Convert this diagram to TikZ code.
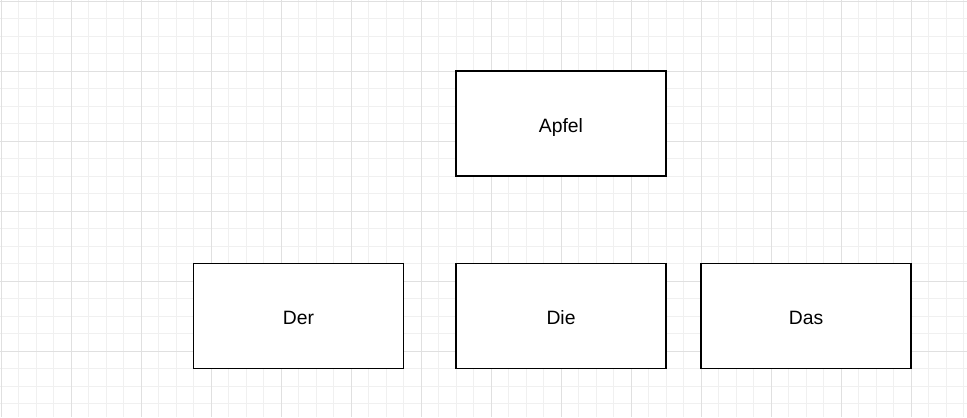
\documentclass[tikz,border=0pt]{standalone}
\usepackage{fontspec}
\setmainfont{Liberation Sans}
\definecolor{gridminor}{RGB}{240,240,240}
\definecolor{gridmajor}{RGB}{224,224,224}
\tikzset{
  wordbox/.style={draw=black, line width=0.85pt, fill=white, minimum width=4.2cm, minimum height=2.1cm,
    inner sep=0pt, text height=0.34cm, text depth=0pt, font=\fontsize{11}{13}\selectfont}
}
\begin{document}
\begin{tikzpicture}[x=0.02cm,y=-0.02cm]
	    \useasboundingbox (0,0) rectangle (967,417);
	    \fill[white] (0,0) rectangle (967,417);
	    % grid
	    \foreach \i in {0,...,55} {
	      \draw[line width=0.55pt,color=gridminor] (1+17.5*\i,0) -- (1+17.5*\i,417);
	    }
	    \foreach \j in {0,...,23} {
	      \draw[line width=0.55pt,color=gridminor] (0,1+17.5*\j) -- (967,1+17.5*\j);
	    }
	    \foreach \i in {0,...,13} {
	      \draw[line width=0.55pt,color=gridmajor] (1+70*\i,0) -- (1+70*\i,417);
	    }
	    \foreach \j in {0,...,5} {
	      \draw[line width=0.55pt,color=gridmajor] (0,1+70*\j) -- (967,1+70*\j);
	    }

	    \node[wordbox] (apfel) at (561,123.5) {Apfel};
	    \node[wordbox] (der) at (298.5,316) {Der};
	    \node[wordbox] (die) at (561,316) {Die};
	    \node[wordbox] (das) at (806,316) {Das};
	\end{tikzpicture}
\end{document}
